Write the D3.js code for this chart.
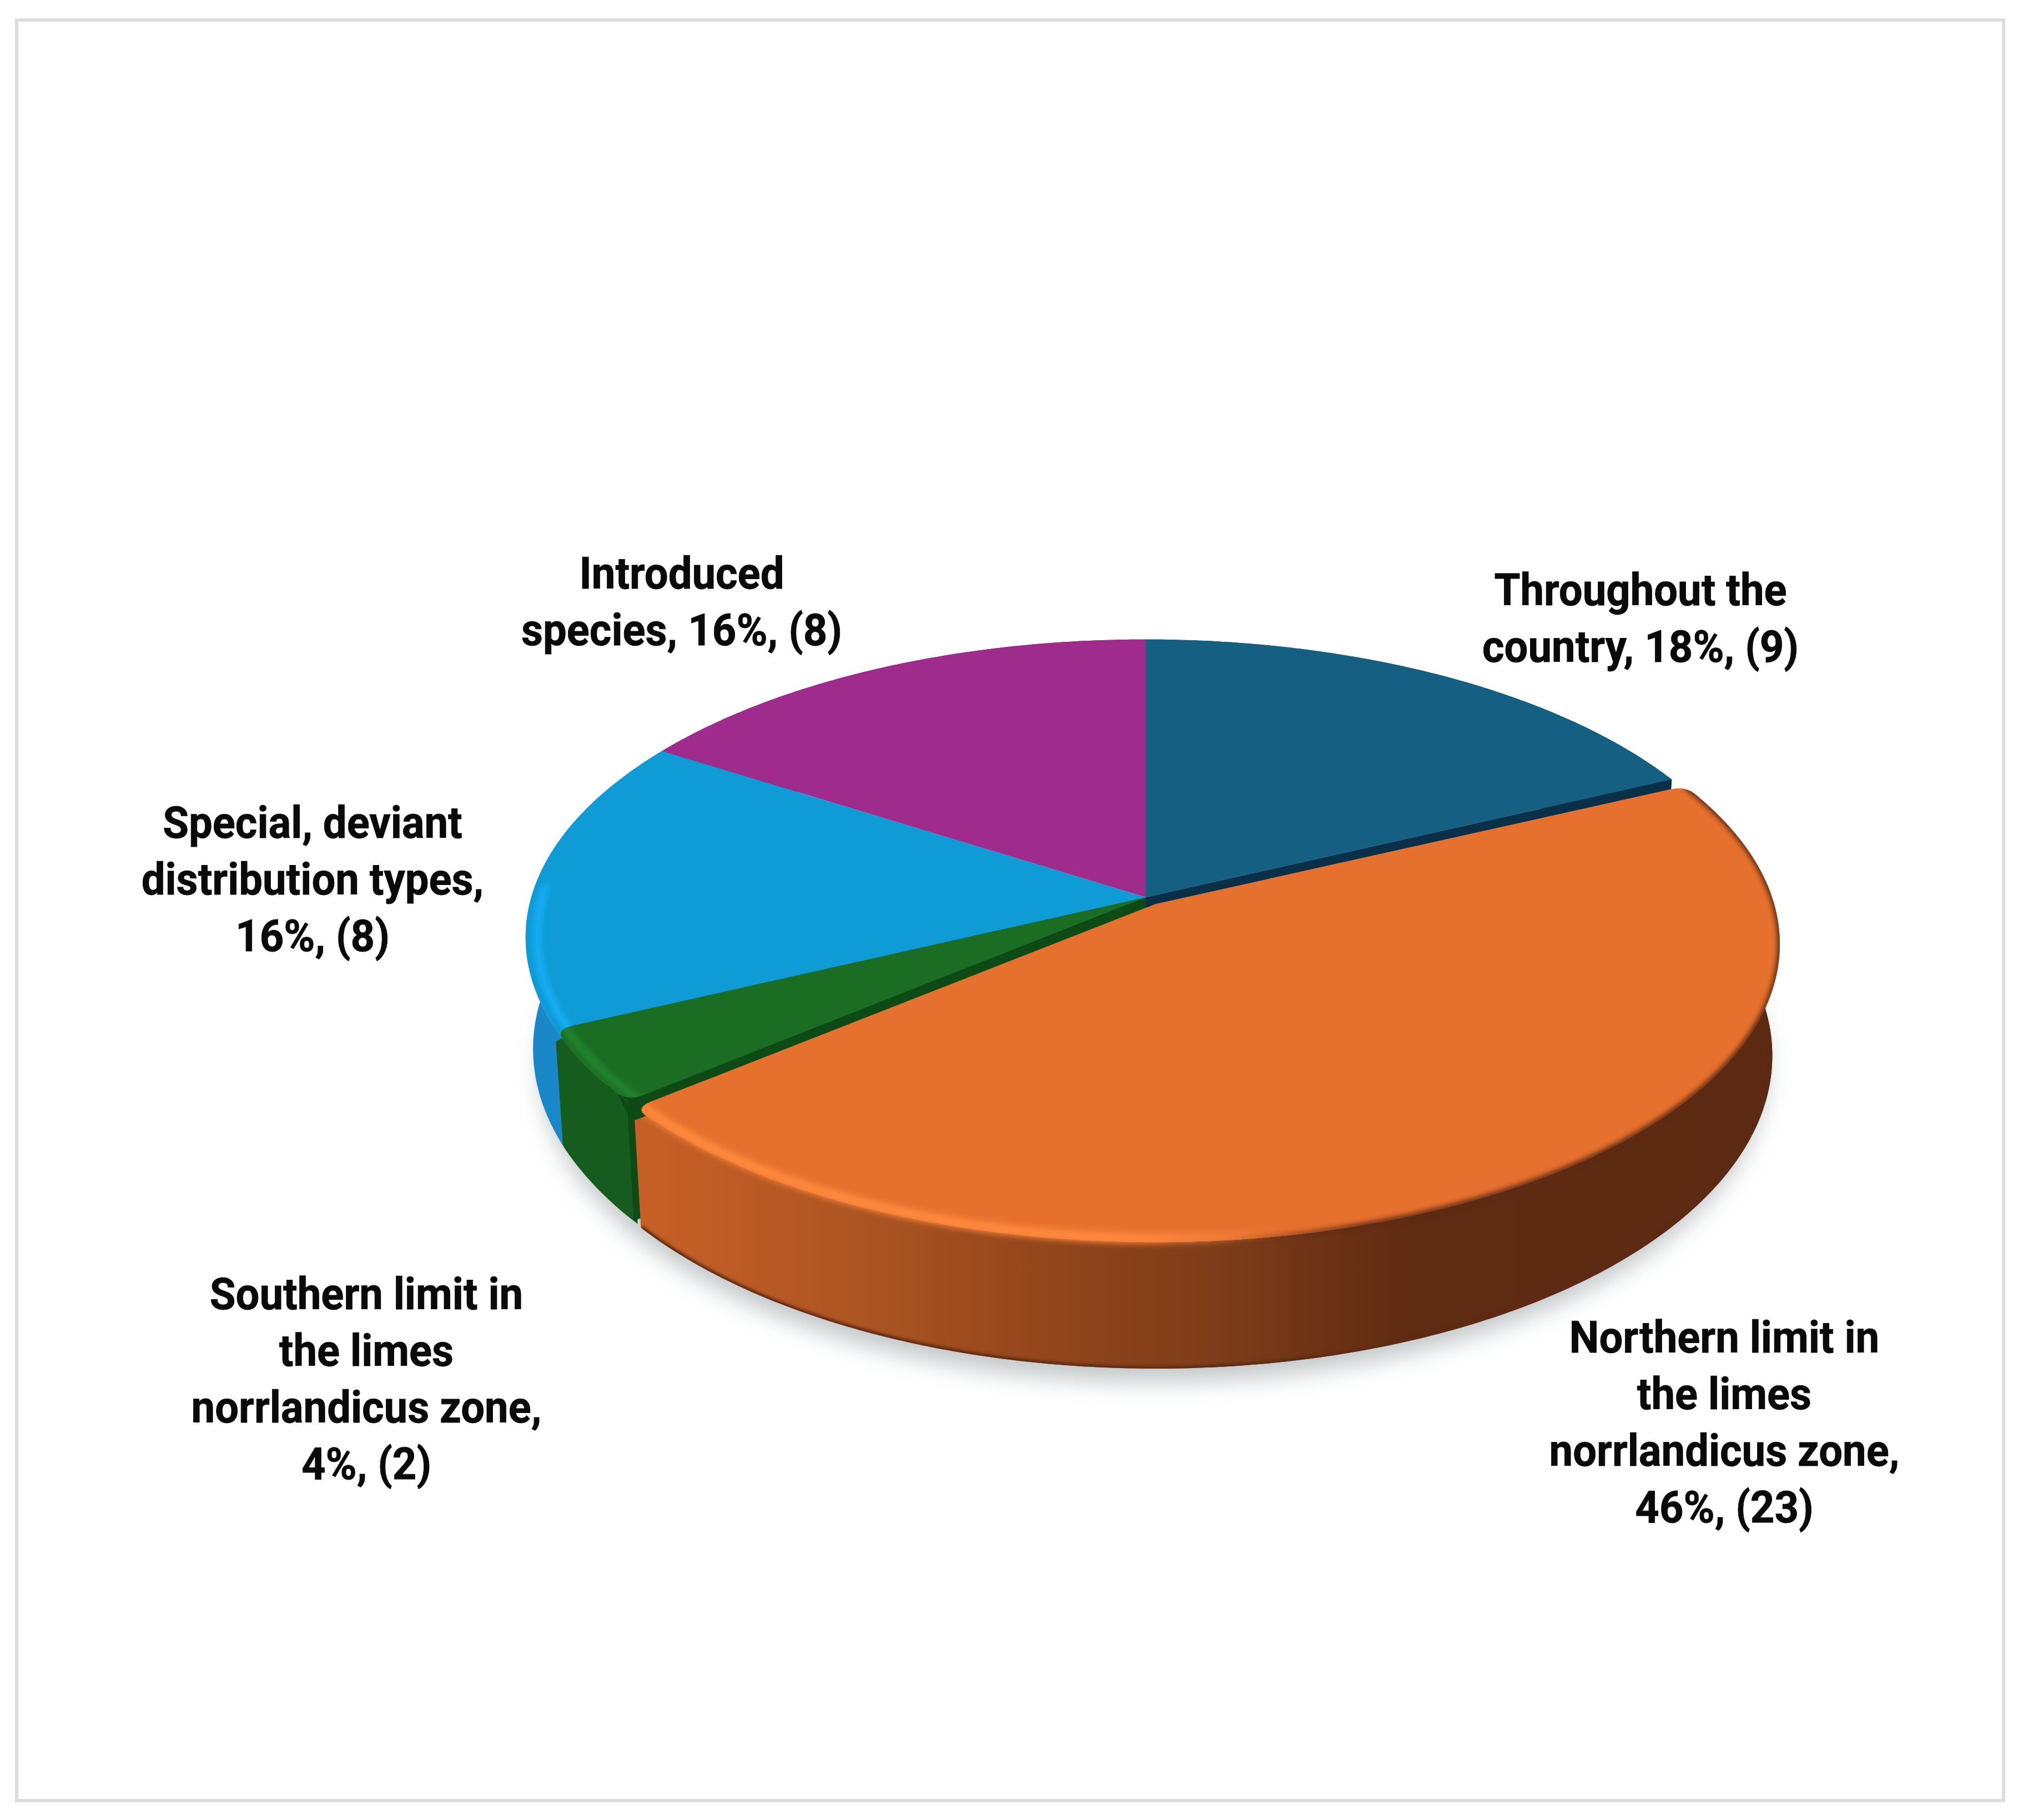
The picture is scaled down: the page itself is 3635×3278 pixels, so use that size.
<!DOCTYPE html>
<html>
<head>
<meta charset="utf-8">
<script src="https://d3js.org/d3.v7.min.js"></script>
<style>
  html, body { margin: 0; padding: 0; background: #ffffff; }
  text { font-family: "Roboto", sans-serif; font-weight: 700; fill: #0a0a0a; }
</style>
</head>
<body>
<div id="chart"></div>
<script>
const categories = ["Throughout the country", "Northern limit in the limes norrlandicus zone", "Southern limit in the limes norrlandicus zone", "Special, deviant distribution types", "Introduced species"];
const counts = [9, 23, 2, 8, 8];
const percents = [18, 46, 4, 16, 16];

const labelLines = [
  ["Throughout the", "country, 18%, (9)"],
  ["Northern limit in", "the limes", "norrlandicus zone,", "46%, (23)"],
  ["Southern limit in", "the limes", "norrlandicus zone,", "4%, (2)"],
  ["Special, deviant", "distribution types,", "16%, (8)"],
  ["Introduced", "species, 16%, (8)"]
];

const topColors = ["#156082", "#e6702e", "#1b6d24", "#0f9bd5", "#9f2b8d"];
const wallColors = ["#0f4860", "#b45a24", "#175c1f", "#1a88c8", "#7a2070"];
const edgeColors = ["#0a2f48", "#6b3212", "#0d4a16", "#0a6a98", "#7a2070"];
const glowColors = ["#156082", "#ff8a3e", "#22852f", "#14aef6", "#9f2b8d"];

// label centres, in reference pixels
const labelX = [2955, 3106, 660, 563, 1228];
const labelY = [1062, 2408, 2330, 1481, 1032];

const width = 3635;
const height = 3278;

const svgSelection = d3.select("#chart").append("svg")
  .attr("width", width)
  .attr("height", height);

const defs = svgSelection.append("defs");

[["blurBig", 20], ["blurMid", 6], ["blurSoft", 4], ["blurSmall", 2.5]].forEach(b => {
  defs.append("filter")
    .attr("id", b[0])
    .attr("x", "-20%").attr("y", "-20%").attr("width", "140%").attr("height", "140%")
    .append("feGaussianBlur").attr("stdDeviation", b[1]);
});

// PROJECTION
// the pie is a flat disc seen in perspective, k pulls the near side to the viewer

const cx = 2064, cy = 1616;
const k = 0.135;
const radiusX = 1107, radiusY = 527;
const wallHeight = 197;
const wallShrink = 0.988;
const orangeShift = [18, 12];
const orangeStretch = 1.006;
const cornerAngle = 0.03, cornerRadius = 0.03, cornerDrop = 22;

const xScale = d3.scaleLinear().domain([-1, 1]).range([cx - radiusX, cx + radiusX]);
const yScale = d3.scaleLinear().domain([-1, 1]).range([cy - radiusY, cy + radiusY]);

function topPoint(angle, r = 1)
{
  let u = r * Math.sin(angle);
  let v = -r * Math.cos(angle);
  let w = 1 - k * v;
  return [xScale(u / w), yScale(v / w)];
}

function bottomPoint(angle)
{
  let p = topPoint(angle);
  let v = -Math.cos(angle);
  let w = 1 - k * v;
  return [cx + (p[0] - cx) * wallShrink, p[1] + wallHeight / w];
}

function arcAngles(a0, a1)
{
  let n = Math.max(2, Math.ceil((a1 - a0) / 0.01));
  return d3.range(n + 1).map(i => a0 + (a1 - a0) * i / n);
}

// rounded corner between two points, as a short quadratic
function corner(p0, c, p1)
{
  return d3.range(9).map(i => {
    let t = i / 8;
    return [
      (1 - t) * (1 - t) * p0[0] + 2 * t * (1 - t) * c[0] + t * t * p1[0],
      (1 - t) * (1 - t) * p0[1] + 2 * t * (1 - t) * c[1] + t * t * p1[1]
    ];
  });
}

function rimPoints(slice, rounded)
{
  let a0 = slice.startAngle, a1 = slice.endAngle;
  if(!rounded) return arcAngles(a0, a1).map(a => topPoint(a));
  return corner(topPoint(a0, 1 - cornerRadius), topPoint(a0), topPoint(a0 + cornerAngle))
    .concat(arcAngles(a0 + cornerAngle, a1 - cornerAngle).map(a => topPoint(a)))
    .concat(corner(topPoint(a1 - cornerAngle), topPoint(a1), topPoint(a1, 1 - cornerRadius)));
}

const line = d3.line();

function topPath(slice, rounded)
{
  return line([[cx, cy]].concat(rimPoints(slice, rounded))) + "Z";
}

function wallPath(slice, rounded)
{
  let a0 = slice.startAngle, a1 = slice.endAngle;
  let below = bottomAngles => bottomAngles.reverse().map(a => bottomPoint(a));
  if(!rounded) return line(arcAngles(a0, a1).map(a => topPoint(a)).concat(below(arcAngles(a0, a1)))) + "Z";
  let start = topPoint(a0), end = topPoint(a1);
  let pts = [[start[0], start[1] + cornerDrop]]
    .concat(arcAngles(a0 + cornerAngle, a1 - cornerAngle).map(a => topPoint(a)))
    .concat([[end[0], end[1] + cornerDrop]]);
  return line(pts.concat(below(arcAngles(a0, a1)))) + "Z";
}

function radialWallPath(angle)
{
  return line([[cx, cy], topPoint(angle), bottomPoint(angle), [cx, cy + wallHeight]]) + "Z";
}

function rimPath(a0, a1, r)
{
  return line(arcAngles(a0, a1).map(a => topPoint(a, r)));
}

const slices = d3.pie().sort(null).value(d => d)(counts);

// pieces that run on a little under the rounded green corners
const blueUnder = {startAngle: slices[3].startAngle - 2 * cornerAngle, endAngle: slices[3].startAngle + 0.01};
const darkUnder = {startAngle: slices[2].startAngle - 0.01, endAngle: slices[2].startAngle + 2 * cornerAngle};

// FRAME

svgSelection.append("rect")
  .attr("x", 30).attr("y", 36)
  .attr("width", 3579).attr("height", 3207)
  .attr("fill", "none")
  .attr("stroke", "#dddddd")
  .attr("stroke-width", 6);

// SHADOW

svgSelection.append("path")
  .attr("d", line(arcAngles(0, 2 * Math.PI).map(a => bottomPoint(a))) + "Z")
  .attr("transform", "translate(14,36)")
  .attr("fill", "#c2c7c8")
  .attr("filter", "url(#blurBig)");

// GRADIENTS

const wallGradient = defs.append("linearGradient")
  .attr("id", "orangeWall")
  .attr("gradientUnits", "userSpaceOnUse")
  .attr("x1", 1160).attr("x2", 3220).attr("y1", 0).attr("y2", 0);
[[0, "#c65f26"], [0.18, "#ad5522"], [0.34, "#93461b"], [0.5, "#7c3c19"], [0.66, "#5f2b12"], [1, "#5c2a12"]]
  .forEach(s => wallGradient.append("stop").attr("offset", s[0]).attr("stop-color", s[1]));

const glowGradient = defs.append("linearGradient")
  .attr("id", "orangeGlow")
  .attr("gradientUnits", "userSpaceOnUse")
  .attr("x1", 1160).attr("x2", 3220).attr("y1", 0).attr("y2", 0);
[[0, 1], [0.42, 1], [0.56, 0]]
  .forEach(s => glowGradient.append("stop").attr("offset", s[0]).attr("stop-color", "#ff8a3e").attr("stop-opacity", s[1]));

const darkGradient = defs.append("linearGradient")
  .attr("id", "orangeDark")
  .attr("gradientUnits", "userSpaceOnUse")
  .attr("x1", 1160).attr("x2", 3220).attr("y1", 0).attr("y2", 0);
[[0.5, 0], [0.62, 1], [1, 1]]
  .forEach(s => darkGradient.append("stop").attr("offset", s[0]).attr("stop-color", "#5c2a12").attr("stop-opacity", s[1]));

// CLIPS

slices.forEach((slice, i) => {
  let rounded = i == 1 || i == 2;
  defs.append("clipPath").attr("id", "clip" + i)
    .append("path").attr("d", topPath(slice, rounded) + wallPath(slice, rounded));
});

// BACK WALLS

const pieGroup = svgSelection.append("g");

pieGroup.append("path").attr("d", wallPath(blueUnder, false)).attr("fill", wallColors[3]);

pieGroup.append("path").attr("d", wallPath(darkUnder, false)).attr("fill", edgeColors[2]);

[0, 4, 3, 2].forEach(i => {
  pieGroup.append("path")
    .attr("d", wallPath(slices[i], i == 2))
    .attr("fill", wallColors[i]);
});

// side faces left open by the pulled out slice
pieGroup.append("path").attr("d", radialWallPath(slices[1].startAngle)).attr("fill", edgeColors[0]);
pieGroup.append("path").attr("d", radialWallPath(slices[1].endAngle)).attr("fill", edgeColors[2]);

// BACK TOPS

pieGroup.append("path").attr("d", topPath(blueUnder, false)).attr("fill", topColors[3]);

pieGroup.append("path").attr("d", topPath(darkUnder, false)).attr("fill", edgeColors[2]);

[0, 4, 3, 2].forEach(i => {
  pieGroup.append("path")
    .attr("d", topPath(slices[i], i == 2))
    .attr("fill", topColors[i]);
});

// BACK RIM HIGHLIGHTS

pieGroup.append("g").attr("clip-path", "url(#clip3)")
  .append("path")
  .attr("d", rimPath(slices[3].startAngle - 0.03, 4.75, 0.982))
  .attr("fill", "none")
  .attr("stroke", glowColors[3])
  .attr("stroke-width", 14)
  .attr("stroke-linecap", "round")
  .attr("filter", "url(#blurMid)");

pieGroup.append("g").attr("clip-path", "url(#clip2)")
  .append("path")
  .attr("d", rimPath(slices[2].startAngle - 0.03, slices[2].endAngle + 0.03, 0.985))
  .attr("fill", "none")
  .attr("stroke", glowColors[2])
  .attr("stroke-width", 14)
  .attr("filter", "url(#blurMid)");

// ORANGE SLICE

const orangeGroup = pieGroup.append("g")
  .attr("transform", "translate(" + orangeShift + ") translate(" + cx + ",0) scale(" + orangeStretch + ",1) translate(" + (-cx) + ",0)");

orangeGroup.append("path")
  .attr("d", wallPath(slices[1], true))
  .attr("fill", "url(#orangeWall)");

const bottomEdge = arcAngles(1.6, slices[1].endAngle).map(a => bottomPoint(a));

orangeGroup.append("g").attr("clip-path", "url(#clip1)")
  .append("path")
  .attr("d", line(bottomEdge))
  .attr("fill", "none")
  .attr("stroke", "#5c2a12")
  .attr("stroke-width", 9)
  .attr("filter", "url(#blurSmall)");

orangeGroup.append("path")
  .attr("d", topPath(slices[1], true))
  .attr("fill", topColors[1]);

const orangeClip = orangeGroup.append("g").attr("clip-path", "url(#clip1)");

orangeClip.append("path")
  .attr("d", rimPath(slices[1].startAngle, slices[1].endAngle, 0.99))
  .attr("fill", "none")
  .attr("stroke", "url(#orangeGlow)")
  .attr("stroke-width", 18)
  .attr("filter", "url(#blurMid)");

orangeClip.append("path")
  .attr("d", rimPath(slices[1].startAngle, slices[1].endAngle, 1))
  .attr("fill", "none")
  .attr("stroke", "url(#orangeDark)")
  .attr("stroke-width", 9)
  .attr("filter", "url(#blurSoft)");

// LABELS

labelLines.forEach((lines, i) => {
  svgSelection.append("text")
    .attr("transform", "translate(" + labelX[i] + "," + (labelY[i] + 28) + ") scale(0.95,1)")
    .attr("text-anchor", "middle")
    .attr("font-size", 80)
    .attr("stroke", "#0a0a0a")
    .attr("stroke-width", 0.8)
    .selectAll("tspan")
    .data(lines)
    .join("tspan")
    .attr("x", 0)
    .attr("y", (d, j) => j * 102)
    .text(d => d);
});
</script>
</body>
</html>
